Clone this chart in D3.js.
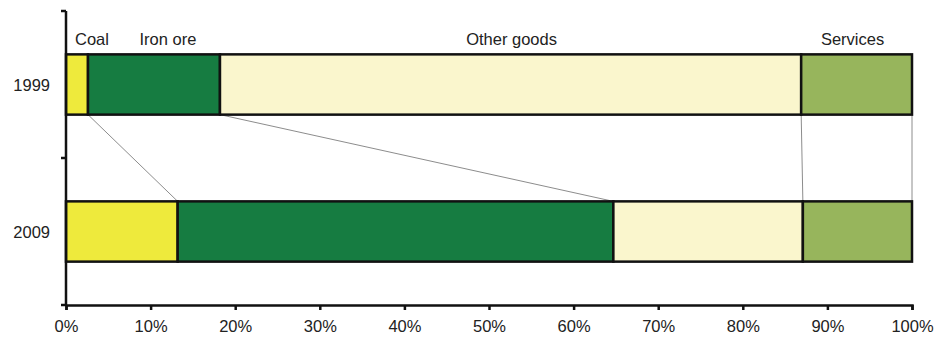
<!DOCTYPE html>
<html><head><meta charset="utf-8">
<script src="https://cdn.jsdelivr.net/npm/d3@7"></script>
<style>
body{margin:0;background:#fff;}
text{font-family:"Liberation Sans",Arial,sans-serif;fill:#222;}
</style></head>
<body><svg id="c" width="935" height="342"></svg>
<script>
const years = ["1999", "2009"];
const categories = ["Coal", "Iron ore", "Other goods", "Services"];
const share1999 = [2.6, 15.6, 68.7, 13.1];
const share2009 = [13.2, 51.5, 22.4, 12.9];
const colors = ["#EEEA3C", "#167C41", "#FAF6CD", "#97B55C"];
const xTicks = [0,10,20,30,40,50,60,70,80,90,100];

const FS = 16.5;
const svg = d3.select("#c");
const x = d3.scaleLinear().domain([0,100]).range([66,912]);
const y = d3.scaleBand().domain(years).range([11,305]).paddingInner(0.59).paddingOuter(0.295);

const data = {"1999": share1999, "2009": share2009};
const stacks = {};
years.forEach(yr => {
  let c = 0;
  stacks[yr] = data[yr].map((v,i) => { const s = {cat: categories[i], x0: c, x1: c+v, i}; c += v; return s; });
});

// connectors
const conn = d3.range(categories.length).map(i => ({a: stacks["1999"][i].x1, b: stacks["2009"][i].x1}));
svg.append("g").selectAll("line").data(conn).join("line")
  .attr("x1", d => x(d.a)).attr("y1", y("1999")+y.bandwidth())
  .attr("x2", d => x(d.b)).attr("y2", y("2009"))
  .attr("stroke", "#7f7f7f").attr("stroke-width", 0.9);

// bars
years.forEach(yr => {
  svg.append("g").selectAll("rect").data(stacks[yr]).join("rect")
    .attr("x", d => x(d.x0)).attr("width", d => x(d.x1)-x(d.x0))
    .attr("y", y(yr)).attr("height", y.bandwidth())
    .attr("fill", d => colors[d.i]).attr("stroke", "#111").attr("stroke-width", 2.5);
});

// category labels above 1999 bar
const nudge = [15, 14, 1, -4];
svg.append("g").selectAll("text").data(stacks["1999"]).join("text")
  .attr("x", d => (x(d.x0)+x(d.x1))/2 + nudge[d.i]).attr("y", y("1999")-9)
  .attr("text-anchor","middle").attr("font-size",FS).text(d => d.cat);

// x axis
const xa = svg.append("g").attr("transform","translate(0,305)")
  .call(d3.axisBottom(x).tickValues(xTicks).tickFormat(d => d+"%").tickSize(5).tickPadding(10));
xa.select(".domain").attr("stroke","#111").attr("stroke-width",2.5);
xa.selectAll(".tick line").attr("stroke","#111").attr("stroke-width",2.5);
xa.selectAll("text").attr("font-size",FS).attr("font-family","Liberation Sans, Arial, sans-serif").attr("fill","#222");

// y axis
svg.append("line").attr("x1",66).attr("x2",66).attr("y1",11).attr("y2",305).attr("stroke","#111").attr("stroke-width",2.5);
const bounds = [11, y("2009") - y.step()*y.paddingInner()/2, 305];
svg.append("g").selectAll("line").data(bounds).join("line")
  .attr("x1",61).attr("x2",66).attr("y1",d=>d).attr("y2",d=>d).attr("stroke","#111").attr("stroke-width",2.5);
svg.append("g").selectAll("text").data(years).join("text")
  .attr("x",50).attr("y",d=>y(d)+y.bandwidth()/2+6).attr("text-anchor","end").attr("font-size",FS).text(d=>d);
</script></body></html>
